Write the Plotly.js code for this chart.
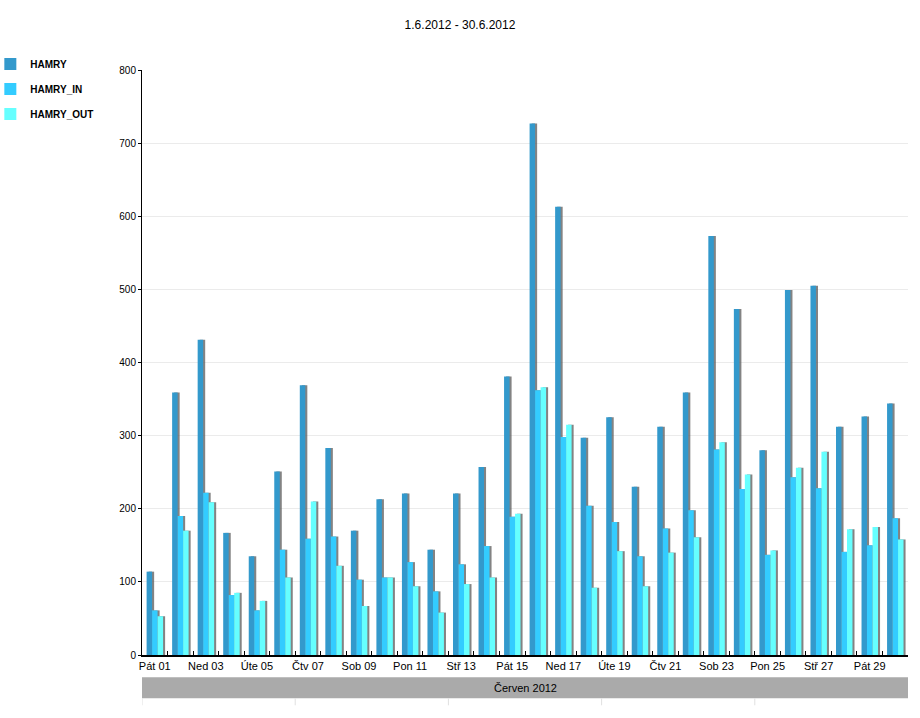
<!DOCTYPE html>
<html><head><meta charset="utf-8">
<script src="https://cdn.plot.ly/plotly-3.0.1.min.js"></script>
<style>body{margin:0;background:#fff}</style>
</head><body><div id="chart" style="width:920px;height:718px"></div>
<script>
const days = [1,2,3,4,5,6,7,8,9,10,11,12,13,14,15,16,17,18,19,20,21,22,23,24,25,26,27,28,29,30];
const tickDays = [1,3,5,7,9,11,13,15,17,19,21,23,25,27,29];
const tickLabels = ["Pát 01","Ned 03","Úte 05","Čtv 07","Sob 09","Pon 11","Stř 13","Pát 15","Ned 17","Úte 19","Čtv 21","Sob 23","Pon 25","Stř 27","Pát 29"];
const hamry    = [114,359,431,167,135,251,369,283,170,213,221,144,221,257,381,727,613,297,325,230,312,359,573,473,280,499,505,312,326,344];
const hamryIn  = [61,190,222,82,61,144,159,162,103,106,127,87,124,149,189,362,298,204,182,135,173,198,281,227,137,243,228,141,150,187];
const hamryOut = [53,170,209,85,74,106,210,122,67,106,94,58,97,106,193,366,315,92,142,94,140,161,291,247,143,256,278,172,175,158];
const seriesNames = ["HAMRY","HAMRY_IN","HAMRY_OUT"];
const seriesColors = ["#3399cc","#33ccff","#66ffff"];
const monthLabel = "Červen 2012";
const titleText = "1.6.2012 - 30.6.2012";

const values = [hamry, hamryIn, hamryOut];
const barW = 0.215;
const offsets = [-0.32, -0.105, 0.11];
const traces = [];
// shadows
values.forEach((v, i) => {
  traces.push({type:'bar', x: days, y: v, width: barW, offset: offsets[i] + 0.08,
    marker:{color:'rgba(90,90,90,0.75)', line:{width:0}}, showlegend:false, hoverinfo:'skip'});
});
values.forEach((v, i) => {
  traces.push({type:'bar', x: days, y: v, width: barW, offset: offsets[i], name: '<b>' + seriesNames[i] + '</b>',
    legendgroup: 'g' + i, marker:{color: seriesColors[i], line:{width:0}}});
});

const sepShapes = [0.5, 6.5, 12.5, 18.5, 24.5].map(xv => ({type:'line', xref:'x', yref:'paper', x0:xv, x1:xv, y0:-0.074, y1:-0.086, line:{color:'#e0e0e0', width:1}}));

const layout = {
  width: 920, height: 718,
  margin: {l:142, r:12, t:70, b:63, autoexpand:false},
  paper_bgcolor:'#fff', plot_bgcolor:'#fff',
  font: {family:'Liberation Sans, Arial, sans-serif', size:11, color:'#000'},
  title: {text: titleText, x: 0.5, xref:'container', xanchor:'center', y: 0.972, yref:'container', font:{size:12, color:'#000'}},
  barmode: 'overlay',
  showlegend: true,
  legend: {x: -0.198, xanchor:'left', y: 1.035, yanchor:'top', font:{size:10, color:'#000'}, tracegroupgap: 6, bgcolor:'rgba(0,0,0,0)'},
  xaxis: {range:[0.5, 30.5], tickvals: tickDays, ticktext: tickLabels, ticks:'', showgrid:false, zeroline:false,
    showline:true, linecolor:'#000', linewidth:2, tickfont:{size:11}, fixedrange:true},
  xaxis2: {overlaying:'x', range:[0.5,30.5], tickvals: days.map(d => d + 0.5), showticklabels:false, ticks:'inside', ticklen:4, tickcolor:'#000', tickwidth:1, showgrid:false, zeroline:false, side:'bottom'},
  yaxis: {range:[0, 800], dtick:100, tick0:0, showgrid:true, gridcolor:'#ebebeb', zeroline:false, showline:true, linecolor:'#000', linewidth:1,
    ticks:'outside', ticklen:3, tickcolor:'#000', tickfont:{size:10}, fixedrange:true},
  shapes: [{type:'rect', xref:'paper', yref:'paper', x0:0, x1:1, y0:-0.038, y1:-0.074, fillcolor:'#aaaaaa', line:{width:0}}].concat(sepShapes),
  annotations: [{xref:'paper', yref:'paper', x:0.5, y:-0.056, text: monthLabel, showarrow:false, font:{size:11, color:'#000'}, xanchor:'center', yanchor:'middle'}]
};
// invisible point so the boundary-tick axis is drawn
traces.push({type:'scatter', x:[1], y:[0], xaxis:'x2', mode:'markers', marker:{opacity:0}, showlegend:false, hoverinfo:'skip'});

Plotly.newPlot('chart', traces, layout, {displayModeBar:false, staticPlot:true});
</script></body></html>
